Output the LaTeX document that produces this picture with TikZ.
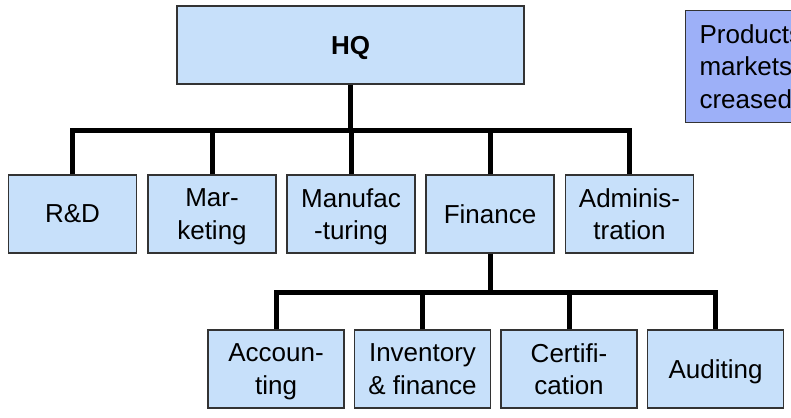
\documentclass[tikz,border=0pt]{standalone}
\usepackage{fontspec}
\setmainfont{Liberation Sans}
\begin{document}
\begin{tikzpicture}[x=1pt,y=-1pt,
  unit/.style={draw=black!80,line width=1.1pt,fill=unitblue,
    minimum height=78pt,inner sep=2pt,align=center,text depth=0pt,
    font=\fontsize{26}{32.5}\selectfont},
  rowtwo/.style={unit,minimum width=128pt},
  rowthree/.style={unit,minimum width=136pt},
  conn/.style={line width=5pt,line join=miter}]
\definecolor{unitblue}{HTML}{C7E0FA}
\definecolor{noteblue}{HTML}{9DB0F8}
\useasboundingbox (0,0) rectangle (791,417);
\clip (0,0) rectangle (791,417);

% top level
\node[unit,minimum width=347pt,font=\fontsize{26}{32.5}\selectfont\bfseries] (hq) at (350.5,45) {HQ};

% departments
\node[rowtwo] (rd)  at (72.5,214) {R\&D};
\node[rowtwo] (mk)  at (212,214)  {Mar-\\keting};
\node[rowtwo] (mf)  at (351,214)  {Manufac\\-turing};
\node[rowtwo] (fin) at (490,214)  {Finance};
\node[rowtwo] (adm) at (629.5,214) {Adminis-\\tration};

% finance sub-units
\node[rowthree] (acc) at (276,369)   {Accoun-\\ting};
\node[rowthree] (inv) at (422.5,369) {Inventory\\\& finance};
\node[rowthree] (cer) at (569,369)   {Certifi-\\cation};
\node[rowthree] (aud) at (715.5,369) {Auditing};

% side note, running past the right edge
\node[draw=black!80,line width=1.1pt,fill=noteblue,anchor=north west,
  minimum width=200pt,minimum height=112pt,text width=172pt,
  inner xsep=14pt,align=left,font=\fontsize{26}{32.5}\selectfont]
  (note) at (685,10) {Products\\markets\\creased};

% connectors: HQ to departments
\coordinate (bus1) at (350.5,130);
\draw[conn] (hq.south) -- (bus1);
\draw[conn] (rd.north) |- (bus1) -| (adm.north);
\draw[conn] (mk.north) -- (mk.north |- bus1);
\draw[conn] (mf.north) -- (mf.north |- bus1);
\draw[conn] (fin.north) -- (fin.north |- bus1);

% connectors: Finance to sub-units
\coordinate (bus2) at (490,292);
\draw[conn] (fin.south) -- (bus2);
\draw[conn] (acc.north) |- (bus2) -| (aud.north);
\draw[conn] (inv.north) -- (inv.north |- bus2);
\draw[conn] (cer.north) -- (cer.north |- bus2);
\end{tikzpicture}
\end{document}
